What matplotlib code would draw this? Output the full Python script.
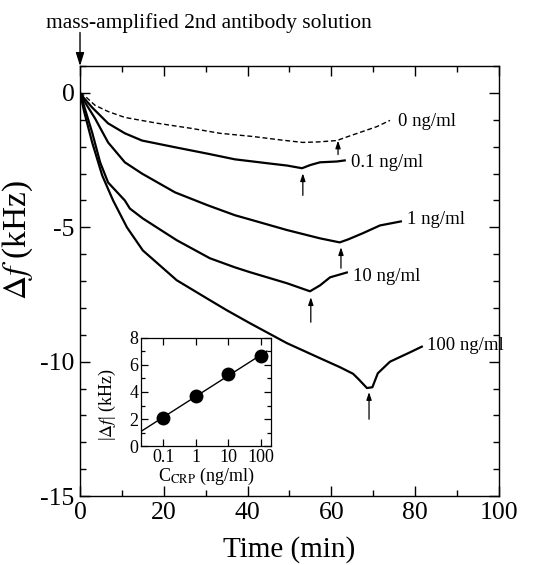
import numpy as np
import matplotlib
matplotlib.use("Agg")
import matplotlib.pyplot as plt
from matplotlib.ticker import MultipleLocator, FixedLocator, NullLocator

plt.rcParams['font.family'] = ['Liberation Serif', 'DejaVu Serif']
plt.rcParams['mathtext.fontset'] = 'stix'
plt.rcParams['axes.unicode_minus'] = False

# time (min) / delta f (kHz)
t0 = [0, 1, 3.6, 6.7, 10.7, 18.6, 26.7, 33.4, 41.3, 48, 53.2, 57, 61.3, 64, 66.8, 70.9, 74]
f0 = [0, -0.09, -0.46, -0.69, -0.91, -1.13, -1.32, -1.5, -1.62, -1.75, -1.84, -1.82, -1.77, -1.62, -1.47, -1.25, -1.02]

t01 = [0, 1, 2.9, 6.7, 10.7, 14.8, 22.7, 30.5, 37, 41.3, 45, 49.4, 53, 55, 57.3, 61.3, 63.2]
f01 = [0, -0.2, -0.54, -1.13, -1.5, -1.77, -2.02, -2.26, -2.47, -2.55, -2.62, -2.7, -2.8, -2.68, -2.58, -2.55, -2.51]

t1 = [0, 1, 3.6, 6.7, 10.7, 14.8, 22.7, 30.5, 37, 41.3, 49.4, 57.3, 62, 64, 67.5, 71.6, 76.6]
f1 = [0, -0.3, -0.95, -1.84, -2.58, -3.0, -3.7, -4.18, -4.55, -4.74, -5.1, -5.41, -5.56, -5.45, -5.22, -4.93, -4.78]

t10 = [0, 1, 2.9, 4.8, 6.7, 10.7, 11.9, 15, 23.1, 31, 37, 40.6, 49.4, 54.9, 57.3, 59.7, 63.7]
f10 = [0, -0.5, -1.47, -2.58, -3.33, -4.0, -4.3, -4.67, -5.48, -6.15, -6.49, -6.67, -7.08, -7.38, -7.16, -6.86, -6.68]

t100 = [0, 1, 2.9, 5.3, 7.9, 11.2, 15, 23.1, 31, 35.1, 40.6, 49.4, 57.3, 62, 65.2, 66.5, 68.5, 69.8, 71.1, 74, 78.8, 81.6]
f100 = [0, -0.7, -1.84, -3.07, -4.0, -5.0, -5.86, -6.97, -7.71, -8.09, -8.57, -9.31, -9.87, -10.2, -10.45, -10.65, -10.98, -10.95, -10.43, -10.0, -9.65, -9.44]

labels = ['0 ng/ml', '0.1 ng/ml', '1 ng/ml', '10 ng/ml', '100 ng/ml']
label_xy = [(75.9, -1.06), (64.7, -2.58), (78.0, -4.7), (65.2, -6.82), (82.8, -9.39)]
# arrows: x, tail y, tip y
arrows = [(61.6, -2.29, -1.77), (53.2, -3.81, -2.99), (62.3, -6.52, -5.74),
          (55.1, -8.53, -7.6), (69.0, -12.14, -11.13)]

# inset
conc = [0.1, 1, 10, 100]
df_abs = [2.07, 3.7, 5.33, 6.67]

fig = plt.figure(figsize=(5.37, 5.65), dpi=100)
ax = fig.add_axes([0.149, 0.122, 0.78, 0.761])

ax.plot(t0, f0, 'k--', lw=1.0, dashes=(3.5, 2))
for t, f in [(t01, f01), (t1, f1), (t10, f10), (t100, f100)]:
    ax.plot(t, f, 'k-', lw=1.6, solid_joinstyle='round')

for lab, (x, y) in zip(labels, label_xy):
    ax.text(x, y, lab, fontsize=13.5, ha='left', va='center')

for x, y0, y1 in arrows:
    ax.annotate('', xy=(x, y1), xytext=(x, y0),
                arrowprops=dict(arrowstyle='-|>,head_length=0.45,head_width=0.15',
                                color='k', lw=0.9, shrinkA=0, shrinkB=0))

ax.annotate('', xy=(0, 1.0), xytext=(0, 2.25), annotation_clip=False,
            arrowprops=dict(arrowstyle='-|>,head_length=0.8,head_width=0.25',
                            color='k', lw=1.0, shrinkA=0, shrinkB=0))
fig.text(209 / 537, 1 - 28 / 565, 'mass-amplified 2nd antibody solution',
         fontsize=15.5, ha='center', va='baseline')

ax.set_xlim(0, 100)
ax.set_ylim(-15, 1)
ax.xaxis.set_major_locator(MultipleLocator(20))
ax.xaxis.set_minor_locator(MultipleLocator(10))
ax.yaxis.set_major_locator(FixedLocator([0, -5, -10, -15]))
ax.yaxis.set_minor_locator(MultipleLocator(1))
ax.tick_params(which='both', direction='in', top=True, right=True, labelsize=18.5, width=1.0)
ax.tick_params(which='major', length=7, pad=4)
ax.tick_params(which='minor', length=4)
for s in ax.spines.values():
    s.set_linewidth(1.0)
ax.set_xlabel('Time (min)', fontsize=21, labelpad=9)
ax.set_ylabel(r'$\Delta f$ (kHz)', fontsize=24)
ax.yaxis.set_label_coords(-0.108, 0.595)

ins = fig.add_axes([0.2626, 0.2106, 0.242, 0.1912])
lx = np.array([0.02, 150])
k, b = np.polyfit(np.log10(conc), df_abs, 1)
ins.plot(lx, k * np.log10(lx) + b, 'k-', lw=1.0)
ins.plot(conc, df_abs, 'ko', ms=9)
ins.set_xscale('log')
ins.set_xlim(0.021, 200)
ins.set_ylim(0, 8)
ins.xaxis.set_major_locator(FixedLocator(conc))
ins.xaxis.set_minor_locator(NullLocator())
ins.set_xticklabels(['0.1', '1', '10', '100'])
ins.yaxis.set_major_locator(MultipleLocator(2))
ins.yaxis.set_minor_locator(MultipleLocator(1))
ins.tick_params(which='both', direction='in', top=True, right=True, labelsize=13, width=0.9)
ins.tick_params(which='major', length=5, pad=2)
ins.tick_params(which='minor', length=3)
for s in ins.spines.values():
    s.set_linewidth(0.9)
ins.set_xlabel(r'C$_{\mathrm{CRP}}$ (ng/ml)', fontsize=13, labelpad=0)
ins.set_ylabel(r'|$\Delta f$| (kHz)', fontsize=13)
ins.yaxis.set_label_coords(-0.18, 0.38)

fig.savefig('out.png', dpi=100)
